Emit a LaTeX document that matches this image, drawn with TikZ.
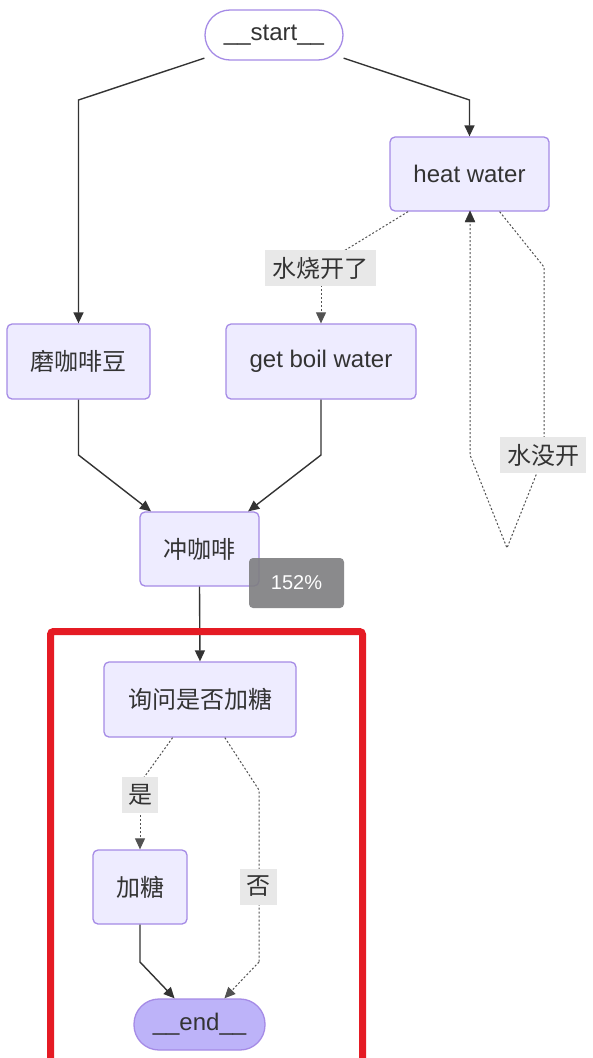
\documentclass[tikz,border=0pt]{standalone}
\usepackage{fontspec}
\setmainfont{Liberation Sans}
\newfontfamily\cjk{Noto Sans CJK SC}
\usetikzlibrary{arrows.meta}
\definecolor{nodefill}{HTML}{EEECFF}
\definecolor{nodeline}{HTML}{A58BE6}
\definecolor{endfill}{HTML}{BDB3F9}
\definecolor{txt}{HTML}{333333}
\definecolor{lblfill}{HTML}{E8E8E8}
\definecolor{redframe}{HTML}{E51B24}
\definecolor{badge}{HTML}{7E7E80}
\tikzset{
  box/.style={draw=nodeline, line width=1.3pt, fill=nodefill, rounded corners=5pt, inner sep=0pt, text=txt, font=\fontsize{24}{28}\selectfont},
  pill/.style={box, rounded corners=25pt},
  edge/.style={draw=txt, line width=1.4pt, -{Triangle[length=11pt,width=10pt]}},
  dedge/.style={draw=txt!85, line width=1pt, dash pattern=on 2pt off 2pt, -{Triangle[length=11pt,width=10pt]}},
  dline/.style={draw=txt!85, line width=1pt, dash pattern=on 2pt off 2pt},
  lbl/.style={fill=lblfill, inner sep=0pt, text=txt, font=\fontsize{24}{28}\selectfont\cjk, minimum height=36pt},
}
\begin{document}
\begin{tikzpicture}[x=1pt,y=-1pt]
\useasboundingbox (0,0) rectangle (592,1058);
\fill[white] (0,0) rectangle (592,1058);
% nodes
\node[pill, fill=white, minimum width=138pt, minimum height=50pt] (start) at (274,35) {\_\_start\_\_};
\node[box, minimum width=159pt, minimum height=74pt] (hw) at (469.5,174) {heat water};
\node[box, minimum width=143pt, minimum height=75pt, font=\fontsize{24}{28}\selectfont\cjk] (grind) at (78.5,361.5) {磨咖啡豆};
\node[box, minimum width=190pt, minimum height=75pt] (gbw) at (321,361.5) {get boil water};
\node[box, minimum width=119pt, minimum height=74pt, font=\fontsize{24}{28}\selectfont\cjk] (brew) at (199.5,549) {冲咖啡};
\node[box, minimum width=192pt, minimum height=75pt, font=\fontsize{24}{28}\selectfont\cjk] (ask) at (200,699.5) {询问是否加糖};
\node[box, minimum width=94pt, minimum height=74pt, font=\fontsize{24}{28}\selectfont\cjk] (sugar) at (140,887) {加糖};
\node[pill, fill=endfill, minimum width=131pt, minimum height=51pt] (end) at (199.5,1024.5) {\_\_end\_\_};
% waypoints
\coordinate (w1) at (78.5,100);
\coordinate (w2) at (469.5,100);
\coordinate (w3) at (321,265);
\coordinate (l1) at (544,267);
\coordinate (l2) at (544,455);
\coordinate (l3) at (507,548);
\coordinate (l4) at (470,455);
\coordinate (l5) at (470,211);
\coordinate (g1) at (78.5,455);
\coordinate (b1) at (321,455);
\coordinate (a1) at (140,783);
\coordinate (a2) at (259,790);
\coordinate (a3) at (259,962);
\coordinate (s1) at (140,962);
% edges
\draw[edge] (start) -- (w1) -- (grind.north);
\draw[edge] (start) -- (w2) -- (hw.north);
\draw[dline] (hw) -- (w3);
\draw[dedge] (w3) -- (w3 |- gbw.north);
\draw[dline] (hw) -- (l1) -- (l2) -- (l3) -- (l4) -- (l4 |- hw.south);
\draw[draw=txt, fill=txt] (l5) -- ++(-5,11) -- ++(10,0) -- cycle;
\draw[edge] (grind.south) -- (g1) -- (brew);
\draw[edge] (gbw.south) -- (b1) -- (brew);
\draw[edge] (brew.south) -- (ask.north);
\draw[dline] (ask) -- (a1);
\draw[dedge] (a1) -- (sugar.north);
\draw[dline] (ask) -- (a2) -- (a3);
\draw[dedge] (a3) -- (end);
\draw[edge] (sugar.south) -- (s1) -- (end);
% labels
\node[lbl, minimum width=111pt] (lb1) at (320.5,268) {水烧开了};
\node[lbl, minimum width=86pt] (lb2) at (543,455) {水没开};
\node[lbl, minimum width=36pt] (lb3) at (140,794.5) {是};
\node[lbl, minimum width=37pt] (lb4) at (258.5,886.5) {否};
% badge
\node[fill=badge, fill opacity=0.9, text opacity=1, text=white, rounded corners=4pt, minimum width=95pt, minimum height=50pt, inner sep=0pt, font=\fontsize{20}{24}\selectfont] (zoom) at (296.5,583) {152\%};
% red frame
\draw[redframe, line width=7pt, rounded corners=3pt] (50.5,1070) -- (50.5,631.5) -- (362.5,631.5) -- (362.5,1070);
\end{tikzpicture}
\end{document}
